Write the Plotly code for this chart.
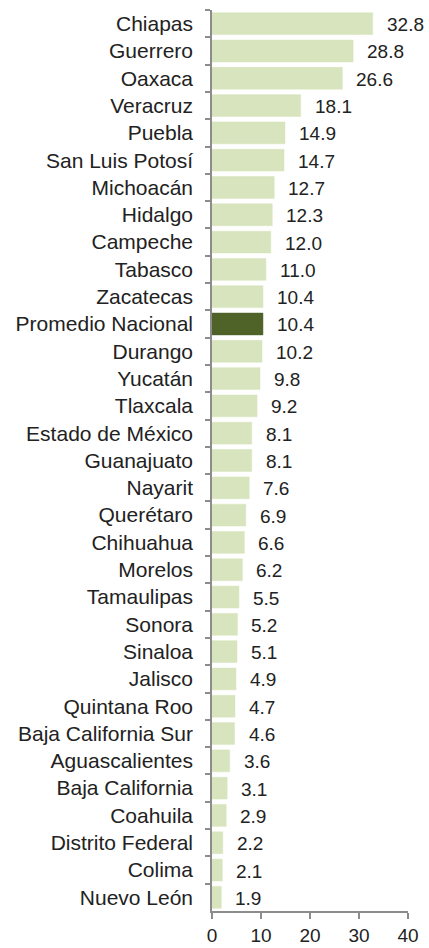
import plotly.graph_objects as go

estados = [
    "Chiapas", "Guerrero", "Oaxaca", "Veracruz", "Puebla", "San Luis Potosí",
    "Michoacán", "Hidalgo", "Campeche", "Tabasco", "Zacatecas",
    "Promedio Nacional", "Durango", "Yucatán", "Tlaxcala", "Estado de México",
    "Guanajuato", "Nayarit", "Querétaro", "Chihuahua", "Morelos",
    "Tamaulipas", "Sonora", "Sinaloa", "Jalisco", "Quintana Roo",
    "Baja California Sur", "Aguascalientes", "Baja California", "Coahuila",
    "Distrito Federal", "Colima", "Nuevo León",
]
valores = [
    32.8, 28.8, 26.6, 18.1, 14.9, 14.7, 12.7, 12.3, 12.0, 11.0, 10.4,
    10.4, 10.2, 9.8, 9.2, 8.1, 8.1, 7.6, 6.9, 6.6, 6.2, 5.5, 5.2, 5.1,
    4.9, 4.7, 4.6, 3.6, 3.1, 2.9, 2.2, 2.1, 1.9,
]
x_ticks = [0, 10, 20, 30, 40]

light = "#d7e4bd"
dark = "#4f6228"
colores = [dark if e == "Promedio Nacional" else light for e in estados]
text_color = "#222222"
font_family = "Liberation Sans, Arial, sans-serif"

fig = go.Figure(
    go.Bar(
        x=valores,
        y=estados,
        orientation="h",
        marker=dict(color=colores, line=dict(color=colores, width=0.5)),
        width=0.8,
        hoverinfo="skip",
    )
)

for e, v in zip(estados, valores):
    fig.add_annotation(
        x=v, y=e, text=f"{v:.1f}", showarrow=False,
        xanchor="left", xshift=12, yshift=-1,
        font=dict(size=19, color=text_color, family=font_family),
    )

fig.update_layout(
    width=429, height=948,
    margin=dict(l=212, r=21, t=10, b=37),
    plot_bgcolor="white", paper_bgcolor="white",
    showlegend=False,
    font=dict(family=font_family, size=19, color=text_color),
)
fig.update_xaxes(
    range=[0, 40], tickvals=x_ticks, ticktext=[str(t) for t in x_ticks],
    showgrid=False, zeroline=False, automargin=False,
    showline=True, linecolor="#8c8c8c", linewidth=1.5,
    ticks="outside", ticklen=6, tickcolor="#8c8c8c", tickwidth=1.5,
    tickfont=dict(size=19, color=text_color),
)
fig.update_yaxes(
    autorange="reversed", showgrid=False, zeroline=False, automargin=False,
    showline=True, linecolor="#8c8c8c", linewidth=1.5,
    ticks="outside", ticklen=5, tickcolor="#8c8c8c", tickwidth=1.5,
    tickson="boundaries", ticklabelstandoff=13,
    tickfont=dict(size=21, color=text_color),
)

fig.write_html("out.html")
